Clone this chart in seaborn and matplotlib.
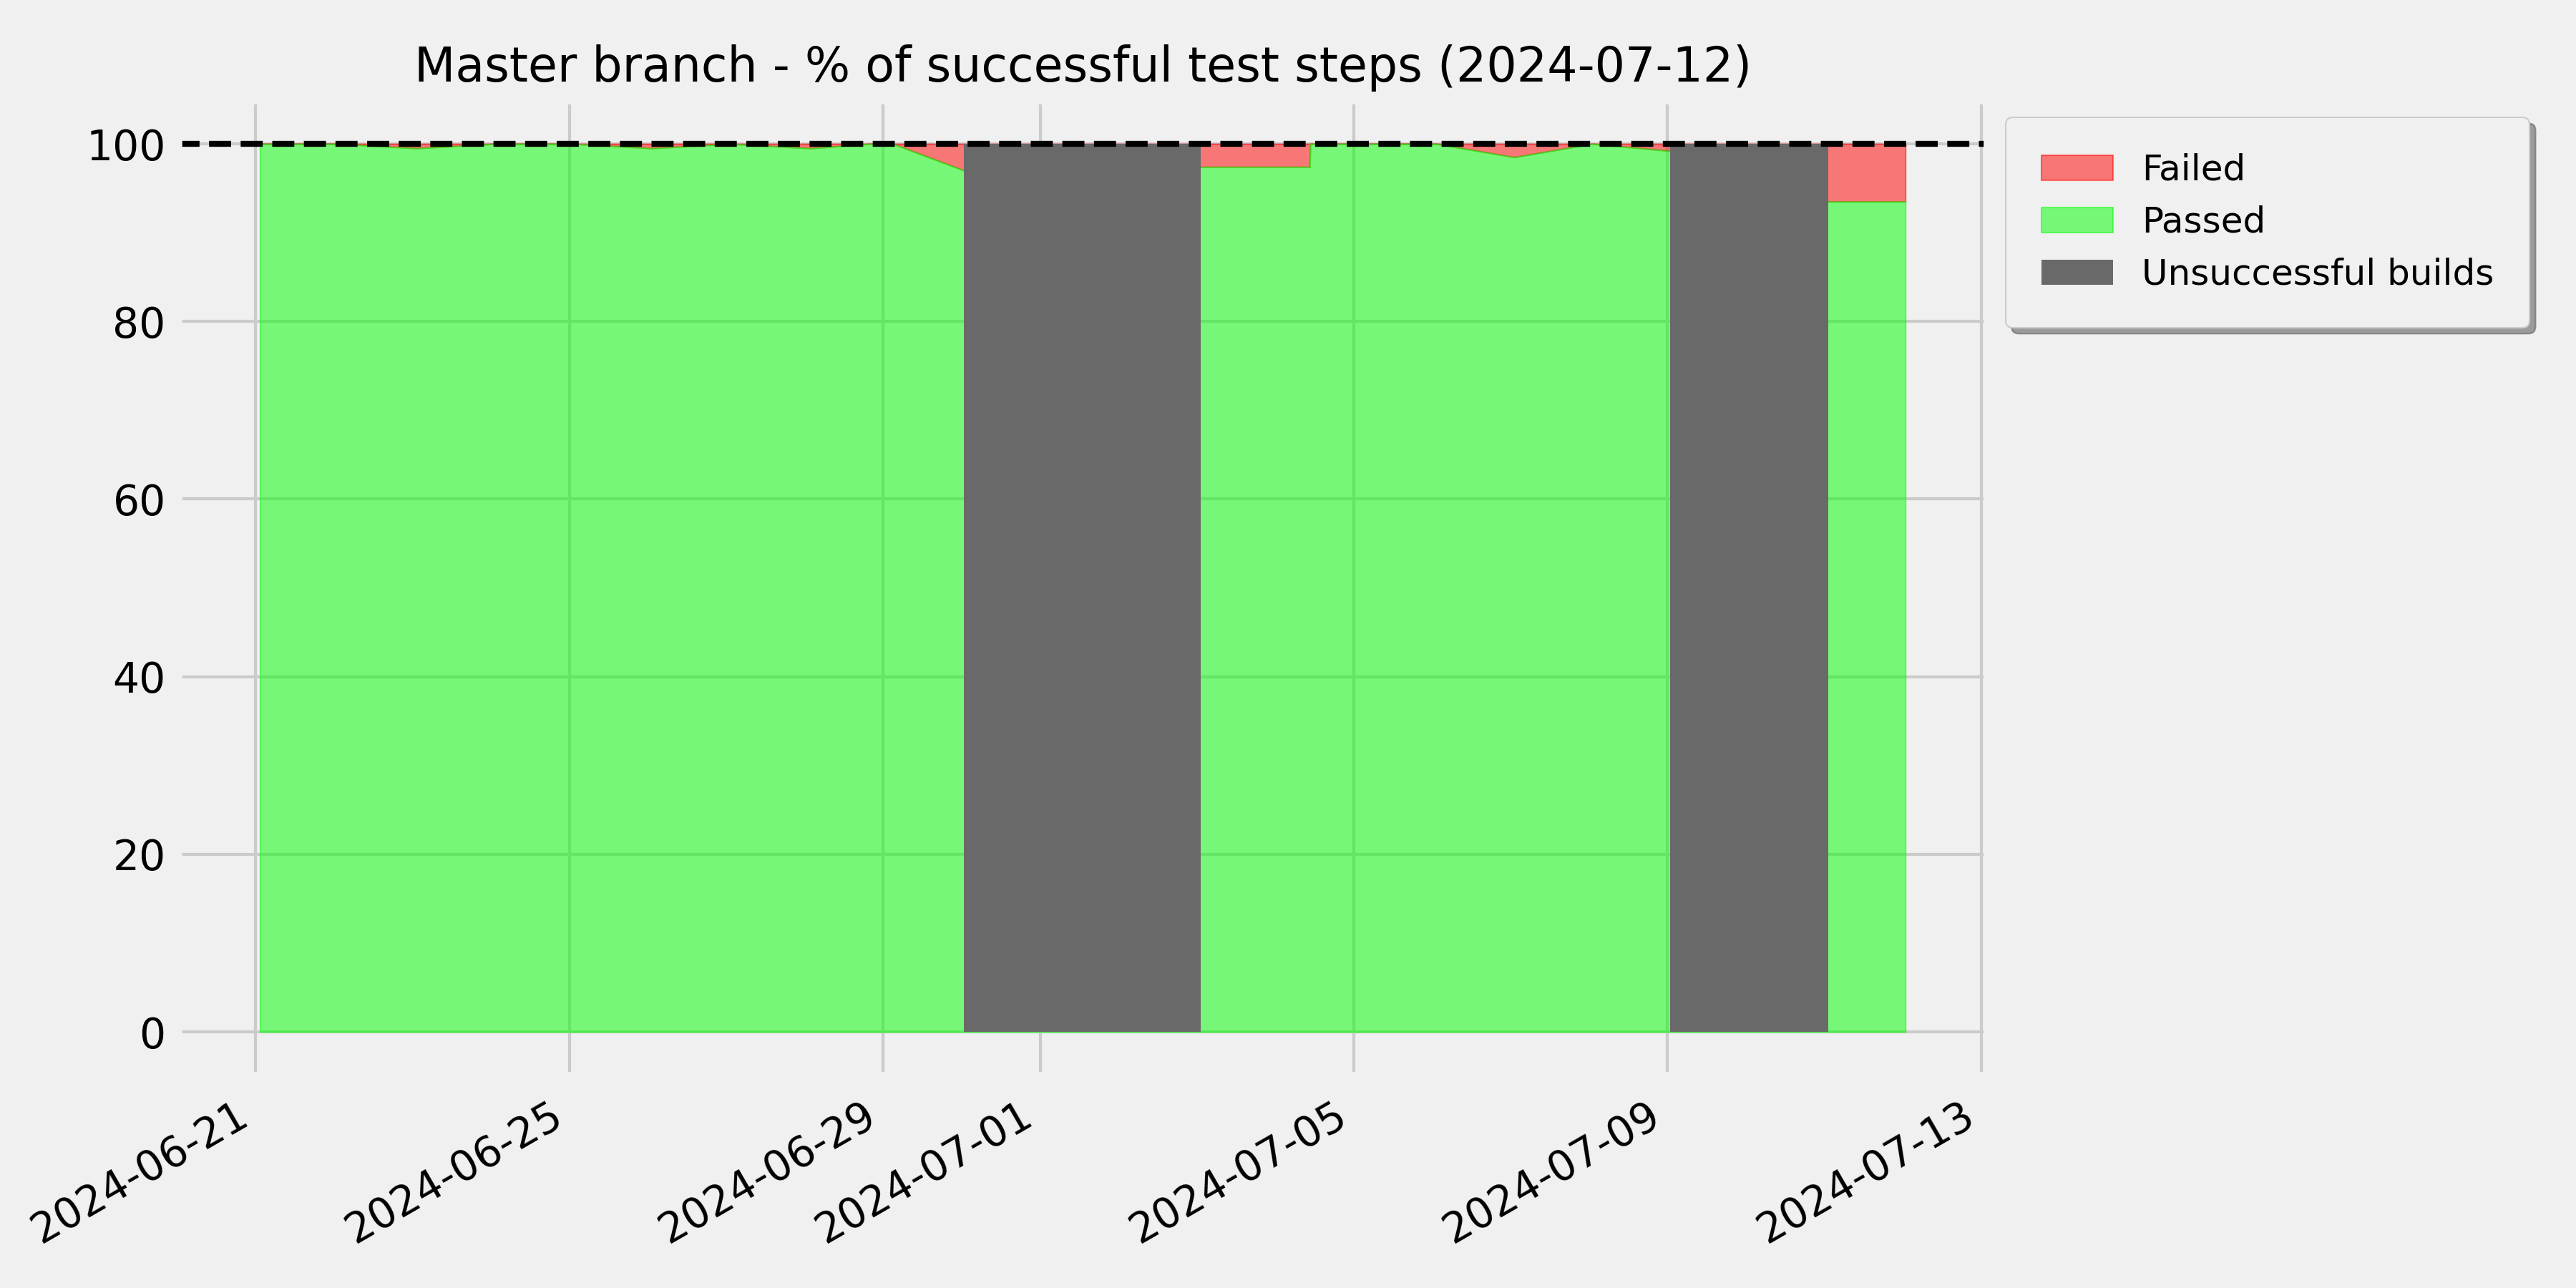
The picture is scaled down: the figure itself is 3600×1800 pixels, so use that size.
import pandas as pd
import matplotlib
matplotlib.use('Agg')
import matplotlib.pyplot as plt
import matplotlib.dates as mdates
import seaborn as sns

# Test runs on master (timestamp, % of test steps that passed)
run_times = [
    '2024-06-21 01:20', '2024-06-22 01:10', '2024-06-23 01:10', '2024-06-24 01:10',
    '2024-06-25 01:10', '2024-06-26 01:15', '2024-06-27 01:10', '2024-06-28 01:40',
    '2024-06-28 20:00', '2024-06-29 03:00', '2024-06-30 00:45', '2024-07-03 01:10',
    '2024-07-04 10:30', '2024-07-04 10:40', '2024-07-05 01:10', '2024-07-06 01:10',
    '2024-07-07 01:00', '2024-07-08 01:00', '2024-07-09 00:45', '2024-07-11 01:10',
    '2024-07-12 00:45',
]
passed_pct = [
    100.0, 100.0, 99.5, 100.0,
    100.0, 99.5, 100.0, 99.5,
    100.0, 100.0, 97.0, 97.4,
    97.4, 100.0, 100.0, 100.0,
    98.5, 100.0, 99.2, 93.5,
    93.5,
]

# Periods where the build itself failed
unsuccessful_start = ['2024-06-30 00:45', '2024-07-09 00:45']
unsuccessful_end = ['2024-07-03 01:10', '2024-07-11 01:10']

REPORT_DATE = '2024-07-12'

# fivethirtyeight look, applied through seaborn
fte = dict(plt.style.library['fivethirtyeight'])
fte.update({
    'xtick.labelsize': 14,
    'ytick.labelsize': 14,
    'legend.fontsize': 12,
    'xtick.major.pad': 6,
    'ytick.major.pad': 4,
    'text.color': 'black',
    'xtick.color': 'black',
    'ytick.color': 'black',
    'axes.labelcolor': 'black',
})
sns.set_theme(style='whitegrid', rc=fte)
plt.rcParams['font.family'] = ['DejaVu Sans']

df = pd.DataFrame({'time': pd.to_datetime(run_times), 'passed': passed_pct})
df['failed'] = 100 - df['passed']

fig, ax = plt.subplots(figsize=(12, 6), dpi=300)
fig.subplots_adjust(left=0.0690, right=0.7716, bottom=0.1644, top=0.9228)

ax.fill_between(df['time'], df['passed'], 100, color='red', alpha=0.5, label='Failed')
ax.fill_between(df['time'], 0, df['passed'], color='lime', alpha=0.5, label='Passed')

starts = pd.to_datetime(unsuccessful_start)
ends = pd.to_datetime(unsuccessful_end)
widths = [(e - s) / pd.Timedelta(days=1) for s, e in zip(starts, ends)]
ax.bar(mdates.date2num(starts), 100, width=widths, align='edge',
       color='dimgray', linewidth=0, label='Unsuccessful builds')

ax.axhline(100, color='black', linestyle='--', linewidth=2)
ax.set_ylim(-5, 105)

ax.xaxis.set_major_locator(mdates.AutoDateLocator())
ax.xaxis.set_major_formatter(mdates.DateFormatter('%Y-%m-%d'))
plt.setp(ax.get_xticklabels(), rotation=30, ha='right')

ax.set_title(f'Master branch - % of successful test steps ({REPORT_DATE})', fontsize=16)
ax.legend(loc='upper left', bbox_to_anchor=(1, 1), shadow=True, fancybox=True,
          borderpad=1.0, fontsize=12)

plt.savefig('out.png', dpi=300)
